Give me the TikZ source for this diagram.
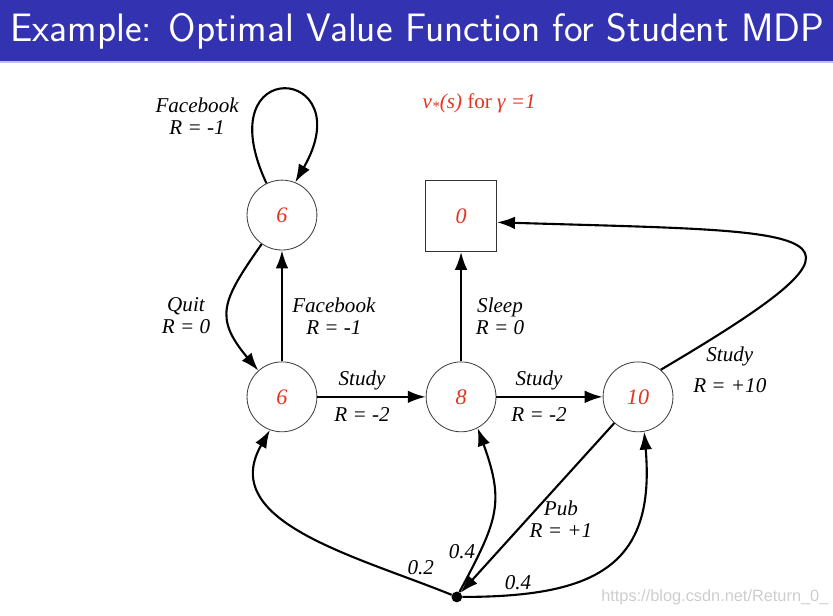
\documentclass[tikz,border=0pt]{standalone}
\usepackage{fontspec}
\setmainfont{Liberation Serif}
\newfontfamily\markfont{Liberation Sans}
\usepackage{xcolor}
\usetikzlibrary{arrows.meta,positioning}
\definecolor{barblue}{RGB}{51,51,178}
\definecolor{valred}{RGB}{230,50,30}
\definecolor{markgray}{RGB}{205,205,205}

\begin{document}
\begin{tikzpicture}[
    state/.style={circle,draw=black!75,line width=0.8pt,minimum size=2.33cm,
      font=\itshape\fontsize{21}{23}\selectfont,text=valred},
    term/.style={rectangle,draw=black!80,line width=0.8pt,minimum size=2.37cm,
      font=\itshape\fontsize{21}{23}\selectfont,text=valred},
    dot/.style={circle,fill=black,inner sep=0pt,minimum size=0.36cm},
    lbl/.style={align=center,font=\itshape\fontsize{20}{21}\selectfont},
    trans/.style={-{Latex[length=17pt,width=12pt]},line width=2pt}]
    \useasboundingbox (0,0) rectangle (27.77,-20.53);
    \fill[barblue] (0,0) rectangle (27.77,-2.03);
    \fill[barblue!30] (0,-2.03) rectangle (27.77,-2.1);
    \node[anchor=base west,text=white,font=\sffamily\fontsize{37.6}{40}\selectfont]
      (title) at (0.23,-1.4) {Example: Optimal Value Function for Student MDP};

    \node[state] (fb) at (9.4,-7.17) {6};
    \node[term] (sl) at (15.37,-7.2) {0};

    \node[state] (c1) at (9.4,-13.23) {6};
    \node[state] (c2) at (15.37,-13.23) {8};
    \node[state] (c3) at (21.27,-13.23) {10};

    \node[dot] (pub) at (15.23,-19.9) {};

    \node[lbl,text=valred,font=\fontsize{20}{21}\selectfont] (gam) at (15.97,-3.43)
      {\textit{v}\textsubscript{\textit{*}}\textit{(s)} for \textit{γ =1}};

    \node[lbl] (lfbloop) at (6.57,-3.88) {Facebook\\R = -1};
    \node[lbl] (lquit) at (6.2,-10.53) {Quit\\R = 0};
    \node[lbl] (lfb) at (11.13,-10.53) {Facebook\\R = -1};
    \node[lbl] (lsleep) at (16.67,-10.53) {Sleep\\R = 0};
    \node[lbl] (lpub) at (18.7,-17.3) {Pub\\R = +1};

    \node[lbl] (ls1) at (12.07,-12.7) {Study};
    \node[lbl] (lr1) at (12.07,-13.83) {R = -2};
    \node[lbl] (ls2) at (17.97,-12.7) {Study};
    \node[lbl] (lr2) at (17.97,-13.83) {R = -2};
    \node[lbl] (ls3) at (24.33,-11.9) {Study};
    \node[lbl] (lr3) at (24.33,-12.87) {R = +10};

    \node[lbl] (p1) at (14.03,-18.93) {0.2};
    \node[lbl] (p2) at (15.4,-18.4) {0.4};
    \node[lbl] (p3) at (17.27,-19.43) {0.4};

    \draw[trans] (fb.116) .. controls +(115:4.8) and +(60:4.5) .. (fb.68);
    \draw[trans] (fb.235) to[out=235,in=130,looseness=1.4] (c1.132);
    \draw[trans] (c1) -- (fb);

    \draw[trans] (c1) -- (c2);
    \draw[trans] (c2) -- (c3);
    \draw[trans] (c2) -- (sl);
    \draw[trans] (c3.50) .. controls (30.2,-7.5) and (27.67,-7.75) .. (sl.-10);

    \draw[trans] (c3) -- (pub);
    \draw[trans] (pub) to[out=158,in=240,looseness=1.1] (c1.250);
    \draw[trans] (pub) to[out=62,in=290,looseness=1.25] (c2.-62);
    \draw[trans] (pub) to[out=0,in=-85,looseness=1.4] (c3.-80);

    \node[anchor=center,text=markgray,font=\markfont\fontsize{15.5}{16}\selectfont]
      (mark) at (23.83,-19.9) {https://blog.csdn.net/Return\_0\_};
\end{tikzpicture}
\end{document}
